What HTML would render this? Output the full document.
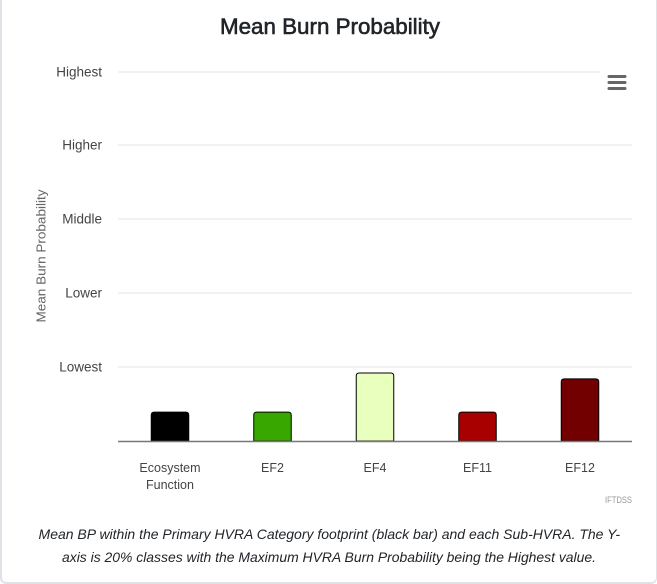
<!DOCTYPE html>
<html lang="en">
<head>
<meta charset="utf-8">
<title>Mean Burn Probability</title>
<style>
html,body{margin:0;padding:0;background:#fff;width:657px;height:583px;overflow:hidden}
#card{position:absolute;left:0;top:-8px;width:654px;height:589px;border:1px solid #dee2e6;border-width:1px 1px 2px 2px;border-radius:6px;box-sizing:content-box}
#chart{position:absolute;left:0;top:0;display:block}
text{font-family:"Liberation Sans",sans-serif}
</style>
</head>
<body>
<div id="card"></div>
<svg id="chart" width="657" height="583" viewBox="0 0 657 583">
  <text x="330" y="34" text-anchor="middle" font-size="22" fill="#212529" stroke="#212529" stroke-width="0.6" textLength="220" lengthAdjust="spacingAndGlyphs">Mean Burn Probability</text>
  <text transform="translate(45.5,256) rotate(-90)" text-anchor="middle" font-size="13" fill="#666666" textLength="133" lengthAdjust="spacingAndGlyphs">Mean Burn Probability</text>
  <g id="grid"></g>
  <g id="bars"></g>
  <g id="xlabels"></g>
  <line x1="118" x2="632" y1="441.5" y2="441.5" stroke="#777777" stroke-width="1.5"></line>
  <g>
    <rect x="607.5" y="75" width="19" height="3" rx="1.5" fill="#666666"></rect>
    <rect x="607.5" y="81" width="19" height="3" rx="1.5" fill="#666666"></rect>
    <rect x="607.5" y="87" width="19" height="3" rx="1.5" fill="#666666"></rect>
  </g>
  <text x="632" y="503" text-anchor="end" font-size="9" fill="#999999" textLength="27" lengthAdjust="spacingAndGlyphs">IFTDSS</text>
  <text x="329.3" y="539" text-anchor="middle" font-size="14" font-style="italic" fill="#212529" textLength="581.5" lengthAdjust="spacingAndGlyphs">Mean BP within the Primary HVRA Category footprint (black bar) and each Sub-HVRA. The Y-</text>
  <text x="329" y="562" text-anchor="middle" font-size="14" font-style="italic" fill="#212529" textLength="534" lengthAdjust="spacingAndGlyphs">axis is 20% classes with the Maximum HVRA Burn Probability being the Highest value.</text>
</svg>
<script>
var categories = [["Ecosystem", "Function"], ["EF2"], ["EF4"], ["EF11"], ["EF12"]];
var seriesValues = [0.39, 0.39, 0.92, 0.39, 0.84];
var barColors = ["#000000", "#38a800", "#e9ffbe", "#a80000", "#730000"];
var yTickLabels = ["", "Lowest", "Lower", "Middle", "Higher", "Highest"];

var NS = "http://www.w3.org/2000/svg";
var plotLeft = 118, plotRight = 632, plotBottom = 441, plotTop = 71.5;
var bandStep = 102.5, firstCenter = 170;
function yScale(v) {
  return plotBottom - v * (plotBottom - plotTop) / (yTickLabels.length - 1);
}
function xCenter(i) {
  return firstCenter + i * bandStep;
}
function node(tag, attrs, text) {
  var el = document.createElementNS(NS, tag);
  for (var k in attrs) { el.setAttribute(k, attrs[k]); }
  if (text !== undefined) { el.textContent = text; }
  return el;
}
var grid = document.getElementById("grid");
yTickLabels.forEach(function (label, i) {
  if (!label) { return; }
  var y = Math.round(yScale(i)) + 0.5;
  var line = node("line", { x1: plotLeft, x2: i === yTickLabels.length - 1 ? 600 : plotRight, y1: y - 0.5, y2: y - 0.5, stroke: "#eeeeee", "stroke-width": 1.5 });
  
  
  grid.appendChild(line);
  var t = node("text", { x: 102, y: y + 4.2, "text-anchor": "end", "font-size": 13.5, fill: "#444444" }, label);
  
  
  grid.appendChild(t);
});
var bars = document.getElementById("bars");
var xlabels = document.getElementById("xlabels");
var barWidth = 37.5;
seriesValues.forEach(function (v, i) {
  var cx = xCenter(i);
  var top = yScale(v);
  var left = cx - barWidth / 2;
  var r = 3;
  var d = "M" + left + " " + plotBottom + "V" + (top + r) + "Q" + left + " " + top + " " + (left + r) + " " + top +
          "H" + (left + barWidth - r) + "Q" + (left + barWidth) + " " + top + " " + (left + barWidth) + " " + (top + r) +
          "V" + plotBottom + "Z";
  var bar = node("path", { d: d, fill: barColors[i], stroke: "#000000", "stroke-width": 1 });
  
  
  bars.appendChild(bar);
  categories[i].forEach(function (line, j) {
    var t = node("text", { x: cx, y: 472 + j * 17, "text-anchor": "middle", "font-size": 12.5, fill: "#444444" }, line);
    
    
    xlabels.appendChild(t);
  });
});
</script>
</body>
</html>
